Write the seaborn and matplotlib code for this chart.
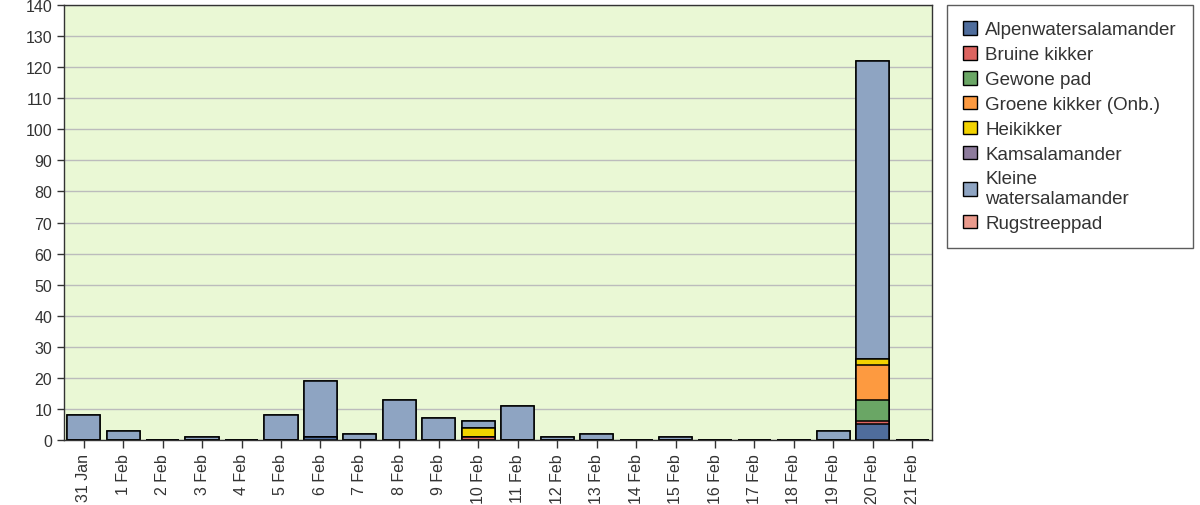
import numpy as np
import pandas as pd
import seaborn as sns
import matplotlib.pyplot as plt
from matplotlib.patches import Patch

# Dates on the x axis
dates = ["31 Jan", "1 Feb", "2 Feb", "3 Feb", "4 Feb", "5 Feb", "6 Feb", "7 Feb",
         "8 Feb", "9 Feb", "10 Feb", "11 Feb", "12 Feb", "13 Feb", "14 Feb", "15 Feb",
         "16 Feb", "17 Feb", "18 Feb", "19 Feb", "20 Feb", "21 Feb"]

# Counts per species (stack order bottom -> top)
alpenwatersalamander = [0, 0, 0, 0, 0, 0, 1, 0, 0, 0, 0, 0, 0, 0, 0, 0, 0, 0, 0, 0, 5, 0]
bruine_kikker = [0, 0, 0, 0, 0, 0, 0, 0, 0, 0, 1, 0, 0, 0, 0, 0, 0, 0, 0, 0, 1, 0]
gewone_pad = [0, 0, 0, 0, 0, 0, 0, 0, 0, 0, 0, 0, 0, 0, 0, 0, 0, 0, 0, 0, 7, 0]
groene_kikker = [0, 0, 0, 0, 0, 0, 0, 0, 0, 0, 0, 0, 0, 0, 0, 0, 0, 0, 0, 0, 11, 0]
heikikker = [0, 0, 0, 0, 0, 0, 0, 0, 0, 0, 3, 0, 0, 0, 0, 0, 0, 0, 0, 0, 2, 0]
kamsalamander = [0, 0, 0, 0, 0, 0, 0, 0, 0, 0, 0, 0, 0, 0, 0, 0, 0, 0, 0, 0, 0, 0]
kleine_watersalamander = [8, 3, 0, 1, 0, 8, 18, 2, 13, 7, 2, 11, 1, 2, 0, 1, 0, 0, 0, 3, 96, 0]
rugstreeppad = [0, 0, 0, 0, 0, 0, 0, 0, 0, 0, 0, 0, 0, 0, 0, 0, 0, 0, 0, 0, 0, 0]

species = ["Alpenwatersalamander", "Bruine kikker", "Gewone pad", "Groene kikker (Onb.)",
           "Heikikker", "Kamsalamander", "Kleine\nwatersalamander", "Rugstreeppad"]
counts = [alpenwatersalamander, bruine_kikker, gewone_pad, groene_kikker,
          heikikker, kamsalamander, kleine_watersalamander, rugstreeppad]
colors = ["#4f6d9c", "#dc6460", "#6aa665", "#fd9a40", "#f2d200", "#8d7b9c", "#8ea4c2", "#ea9a8c"]

df = pd.DataFrame(np.array(counts).T, columns=species)
df.insert(0, "date", dates)
cum = df[species].cumsum(axis=1)

sns.set_style("white")
plt.rcParams['font.family'] = ['Liberation Sans', 'DejaVu Sans']
fig = plt.figure(figsize=(12, 5.06), dpi=100)
ax = fig.add_axes([0.0533, 0.1285, 0.7234, 0.8595])
ax.set_facecolor("#eaf8d5")

# draw cumulative heights from the top species down so the segments look stacked
for i in range(len(species) - 1, -1, -1):
    sns.barplot(x=df["date"], y=cum[species[i]], order=dates, color=colors[i],
                edgecolor="black", linewidth=1.1, width=0.84, saturation=1,
                ax=ax, zorder=2)

ax.set_ylim(0, 140)
ax.set_xlim(-0.5, len(dates) - 0.5)
ax.set_yticks(range(0, 141, 10))
ax.yaxis.grid(True, color="#bcbcbc", linewidth=1)
ax.set_axisbelow(True)
ax.set_xlabel("")
ax.set_ylabel("")
ax.tick_params(axis="x", rotation=90, labelsize=11.5, colors="#333333", length=6, width=1, bottom=True)
ax.tick_params(axis="y", labelsize=11.5, colors="#333333", length=5, width=1, left=True)
for s in ax.spines.values():
    s.set_color("#333333")
    s.set_linewidth(1)
    s.set_zorder(5)

handles = [Patch(facecolor=c, edgecolor="black", label=s) for s, c in zip(species, colors)]
leg = fig.legend(handles=handles, loc="upper left", bbox_to_anchor=(0.789, 0.988),
                 borderaxespad=0, fontsize=13.5, frameon=True, fancybox=False,
                 handlelength=0.75, handleheight=0.75, handletextpad=0.45,
                 borderpad=0.85, labelspacing=0.4)
leg.get_frame().set_edgecolor("#333333")
leg.get_frame().set_linewidth(1)
for t in leg.get_texts():
    t.set_color("#333333")

fig.savefig("out.png", dpi=100)
